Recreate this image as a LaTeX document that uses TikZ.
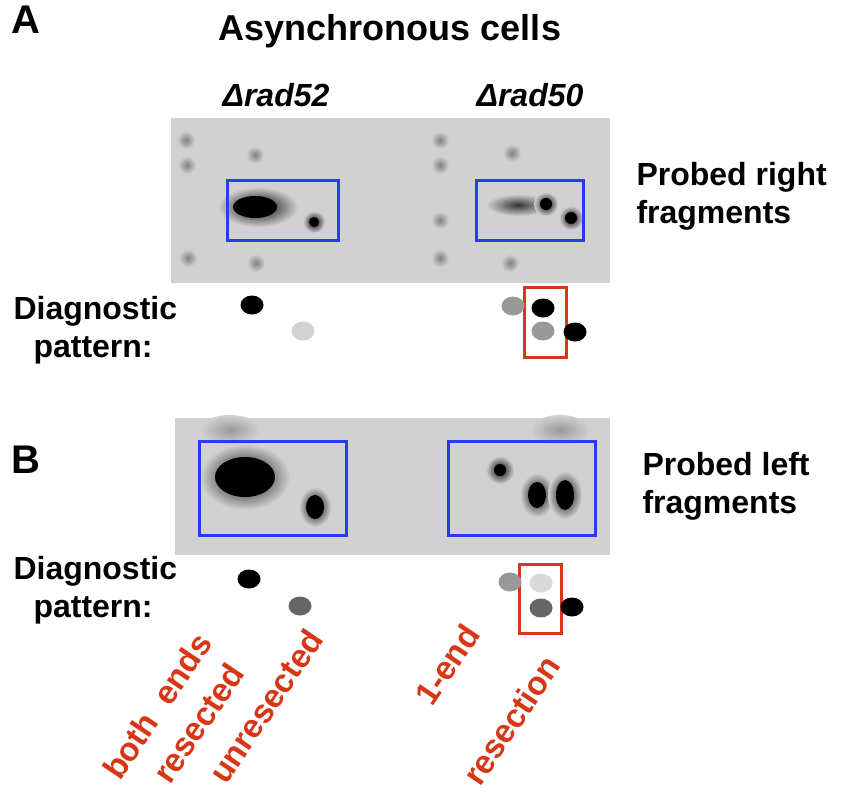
\documentclass[tikz,border=0pt]{standalone}
\usepackage{fontspec}
\setmainfont{Liberation Sans}
\usepackage{tikz}
\definecolor{gel}{gray}{0.82}
\definecolor{boxblue}{RGB}{40,60,235}
\definecolor{boxred}{RGB}{215,55,20}
\tikzset{
  lbl/.style={font=\bfseries\fontsize{32}{38}\selectfont, align=left, anchor=west},
  res/.style={font=\bfseries\fontsize{33}{38}\selectfont, text=boxred, rotate=56, anchor=base west, inner sep=0pt},
  frame/.style={draw=boxblue, line width=3pt},
  redbox/.style={draw=boxred, line width=3pt},
  dot/.style={ellipse, minimum width=23pt, minimum height=19pt, inner sep=0pt, fill=#1},
  spot/.style={inner color=black, outer color=gel}
}
\usetikzlibrary{shapes.geometric}
\begin{document}
\begin{tikzpicture}[x=1pt, y=-1pt]
  \useasboundingbox (0,0) rectangle (841,800);
  % gels
  \fill[gel] (171,118) rectangle (610,283);
  \fill[gel] (175,418) rectangle (610,555);
  % faint marker spots
  \foreach \x/\y in {186/140,187/165,255/155,188/258,256/263,440/140,440/165,512/153,440/258,510/263,440/220}
    \shade[inner color=gray, outer color=gel] (\x,\y) circle (9);
  \shade[inner color=gray!80, outer color=gel] (230,430) ellipse (30 and 15);
  \shade[inner color=gray!80, outer color=gel] (560,430) ellipse (30 and 15);
  % signals, right fragments
  \shade[spot] (258,207) ellipse (40 and 20);
  \fill[black] (255,207) ellipse (22 and 11);
  \shade[spot] (314,222) circle (11);
  \fill[black] (314,222) circle (5);
  \shade[inner color=gray!40!black, outer color=gel] (518,205) ellipse (32 and 11);
  \shade[spot] (546,204) circle (12);
  \fill[black] (546,204) circle (6);
  \shade[spot] (571,218) circle (12);
  \fill[black] (571,218) circle (6);
  % signals, left fragments
  \shade[spot] (245,477) ellipse (45 and 33);
  \fill[black] (245,477) ellipse (30 and 20);
  \shade[spot] (315,507) ellipse (16 and 20);
  \fill[black] (315,507) ellipse (9 and 12);
  \shade[spot] (500,470) circle (14);
  \fill[black] (500,470) circle (6);
  \shade[spot] (537,495) ellipse (17 and 22);
  \fill[black] (537,495) ellipse (9 and 13);
  \shade[spot] (565,495) ellipse (17 and 24);
  \fill[black] (565,495) ellipse (9 and 15);
  % boxes
  \draw[frame] (227,180) rectangle (338,240);
  \draw[frame] (476,180) rectangle (583,240);
  \draw[frame] (199,441) rectangle (346,535);
  \draw[frame] (448,441) rectangle (595,535);
  \draw[redbox] (524,287) rectangle (566,357);
  \draw[redbox] (519,564) rectangle (561,633);
  % diagnostic dots
  \node[dot=black] (a1) at (252,305) {};
  \node[dot=gray!35] (a2) at (303,331) {};
  \node[dot=gray!80] (a3) at (513,306) {};
  \node[dot=black] (a4) at (543,308) {};
  \node[dot=gray!80] (a5) at (543,331) {};
  \node[dot=black] (a6) at (575,332) {};
  \node[dot=black] (b1) at (249,579) {};
  \node[dot=black!60] (b2) at (300,606) {};
  \node[dot=gray!80] (b3) at (510,582) {};
  \node[dot=gray!30] (b4) at (541,583) {};
  \node[dot=black!60] (b5) at (541,608) {};
  \node[dot=black] (b6) at (572,607) {};
  % labels
  \node[font=\bfseries\fontsize{40}{44}\selectfont] (pa) at (26,20) {A};
  \node[font=\bfseries\fontsize{40}{44}\selectfont] (pb) at (26,460) {B};
  \node[font=\bfseries\fontsize{36}{40}\selectfont] (title) at (390,31) {Asynchronous cells};
  \node[font=\bfseries\itshape\fontsize{32}{36}\selectfont] (m52) at (276,95) {Δrad52};
  \node[font=\bfseries\itshape\fontsize{32}{36}\selectfont] (m50) at (530,95) {Δrad50};
  \node[lbl] (pr) at (633,196) {Probed right\\fragments};
  \node[lbl] (pl) at (639,486) {Probed left\\fragments};
  \node[lbl] (da) at (10,330) {Diagnostic\\\hspace*{20pt}pattern:};
  \node[lbl] (db) at (10,590) {Diagnostic\\\hspace*{20pt}pattern:};
  \node[res] (both) at (120,782) {both\ \ ends};
  \node[res] (resd) at (170,786) {resected};
  \node[res] (unres) at (226,786) {unresected};
  \node[res] (one) at (432,708) {1-end};
  \node[res] (rion) at (480,788) {resection};
\end{tikzpicture}
\end{document}
